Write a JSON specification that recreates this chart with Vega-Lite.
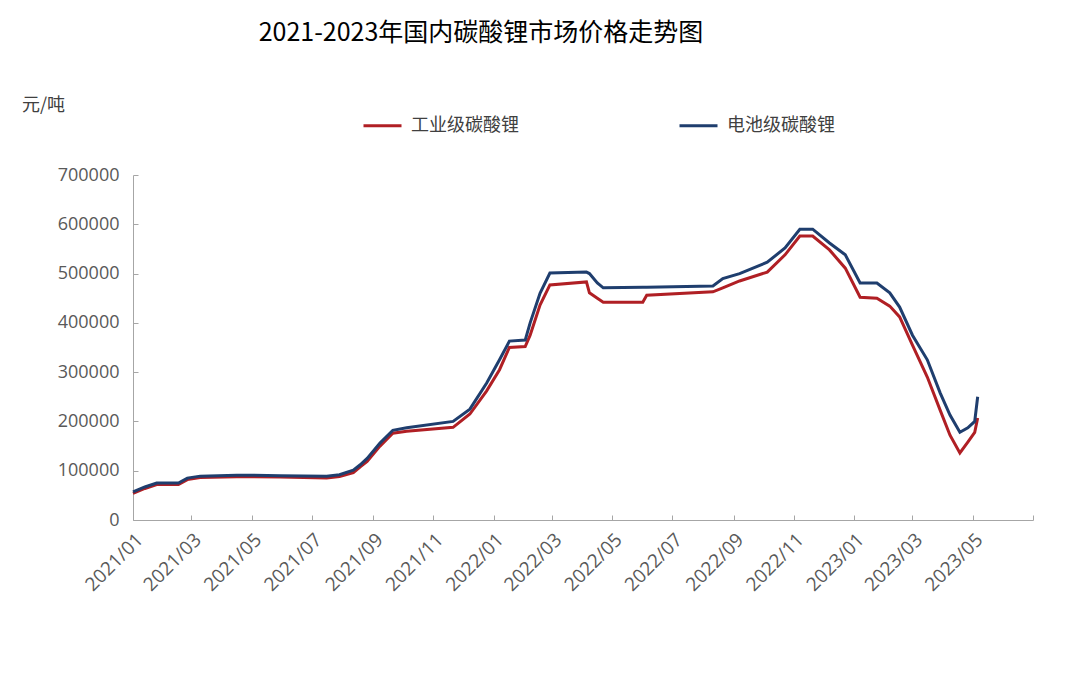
{
  "$schema": "https://vega.github.io/schema/vega-lite/v6.json",
  "width": 900,
  "height": 345,
  "autosize": {"type": "none"},
  "padding": {"left": 133, "top": 175, "right": 47, "bottom": 158},
  "background": "white",
  "config": {"view": {"stroke": null}, "font": "Open Sans"},
  "title": {
    "text": "2021-2023年国内碳酸锂市场价格走势图",
    "font": "Noto Sans CJK SC",
    "fontSize": 25,
    "fontWeight": "normal",
    "color": "#000000",
    "anchor": "middle",
    "dx": -102,
    "offset": 50
  },
  "data": {
    "values": [
      {"date": "2021-01-01T00:00", "industrial": 54000, "battery": 57000},
      {"date": "2021-01-13T00:00", "industrial": 64000, "battery": 67000},
      {"date": "2021-01-25T00:00", "industrial": 72000, "battery": 75000},
      {"date": "2021-02-16T00:00", "industrial": 72000, "battery": 75000},
      {"date": "2021-02-25T00:00", "industrial": 82000, "battery": 85000},
      {"date": "2021-03-10T00:00", "industrial": 86000, "battery": 89000},
      {"date": "2021-04-16T00:00", "industrial": 88000, "battery": 91000},
      {"date": "2021-05-30T00:00", "industrial": 87000, "battery": 90000},
      {"date": "2021-07-16T00:00", "industrial": 85000, "battery": 89000},
      {"date": "2021-07-29T00:00", "industrial": 88000, "battery": 92000},
      {"date": "2021-08-12T00:00", "industrial": 96000, "battery": 101000},
      {"date": "2021-08-19T00:00", "industrial": 108000, "battery": 112000},
      {"date": "2021-08-26T00:00", "industrial": 119000, "battery": 125000},
      {"date": "2021-09-08T00:00", "industrial": 150000, "battery": 156000},
      {"date": "2021-09-21T00:00", "industrial": 176000, "battery": 182000},
      {"date": "2021-10-05T00:00", "industrial": 180000, "battery": 187000},
      {"date": "2021-11-21T00:00", "industrial": 188000, "battery": 200000},
      {"date": "2021-12-08T00:00", "industrial": 215000, "battery": 225000},
      {"date": "2021-12-25T00:00", "industrial": 262000, "battery": 278000},
      {"date": "2022-01-07T00:00", "industrial": 305000, "battery": 325000},
      {"date": "2022-01-17T00:00", "industrial": 350000, "battery": 363000},
      {"date": "2022-02-02T00:00", "industrial": 352000, "battery": 365000},
      {"date": "2022-02-07T00:00", "industrial": 375000, "battery": 400000},
      {"date": "2022-02-17T00:00", "industrial": 436000, "battery": 460000},
      {"date": "2022-02-27T00:00", "industrial": 477000, "battery": 501000},
      {"date": "2022-04-05T00:00", "industrial": 483000, "battery": 503000},
      {"date": "2022-04-08T00:00", "industrial": 461000, "battery": 500000},
      {"date": "2022-04-16T00:00", "industrial": 450000, "battery": 481000},
      {"date": "2022-04-22T00:00", "industrial": 442000, "battery": 471000},
      {"date": "2022-06-01T00:00", "industrial": 442000, "battery": 472000},
      {"date": "2022-06-05T00:00", "industrial": 456000, "battery": 472000},
      {"date": "2022-08-11T00:00", "industrial": 463000, "battery": 475000},
      {"date": "2022-08-21T00:00", "industrial": 471000, "battery": 490000},
      {"date": "2022-09-07T00:00", "industrial": 485000, "battery": 500000},
      {"date": "2022-10-05T00:00", "industrial": 503000, "battery": 523000},
      {"date": "2022-10-23T00:00", "industrial": 538000, "battery": 552000},
      {"date": "2022-11-07T00:00", "industrial": 576000, "battery": 590000},
      {"date": "2022-11-20T00:00", "industrial": 576000, "battery": 590000},
      {"date": "2022-12-07T00:00", "industrial": 548000, "battery": 562000},
      {"date": "2022-12-23T00:00", "industrial": 511000, "battery": 538000},
      {"date": "2023-01-07T00:00", "industrial": 452000, "battery": 481000},
      {"date": "2023-01-24T00:00", "industrial": 450000, "battery": 481000},
      {"date": "2023-02-06T00:00", "industrial": 434000, "battery": 461000},
      {"date": "2023-02-16T00:00", "industrial": 412000, "battery": 432000},
      {"date": "2023-03-01T00:00", "industrial": 355000, "battery": 375000},
      {"date": "2023-03-16T00:00", "industrial": 290000, "battery": 325000},
      {"date": "2023-03-29T00:00", "industrial": 223000, "battery": 258000},
      {"date": "2023-04-08T00:00", "industrial": 172000, "battery": 213000},
      {"date": "2023-04-18T00:00", "industrial": 136000, "battery": 178000},
      {"date": "2023-04-26T00:00", "industrial": 158000, "battery": 187000},
      {"date": "2023-05-03T00:00", "industrial": 178000, "battery": 200000},
      {"date": "2023-05-06T00:00", "industrial": 207000, "battery": 250000}
    ]
  },
  "encoding": {
    "x": {
      "field": "date",
      "type": "temporal",
      "scale": {"domain": [{"year": 2021, "month": 1, "date": 1}, {"year": 2023, "month": 7, "date": 1}]},
      "axis": {
        "title": null,
        "format": "%Y/%m",
        "tickCount": {"interval": "month", "step": 2},
        "labelExpr": "datum.value >= datetime(2023, 5, 15) ? '' : timeFormat(datum.value, '%Y/%m')",
        "labelAngle": -45,
        "labelAlign": "right",
        "labelBaseline": "top",
        "labelPadding": 15,
        "tickSize": -5,
        "labelFontSize": 19,
        "labelColor": "#595959",
        "labelOverlap": false,
        "labelFlush": false,
        "domainColor": "#A6A6A6",
        "tickColor": "#A6A6A6",
        "grid": false
      }
    },
    "y": {
      "type": "quantitative",
      "scale": {"domain": [0, 700000]},
      "axis": {
        "title": "元/吨",
        "titleAngle": 0,
        "titleX": -90,
        "titleY": -70,
        "titleAlign": "center",
        "titleBaseline": "middle",
        "titleFont": "Noto Sans CJK SC",
        "titleFontSize": 18,
        "titleFontWeight": "normal",
        "titleColor": "#404040",
        "values": [0, 100000, 200000, 300000, 400000, 500000, 600000, 700000],
        "format": "d",
        "labelFontSize": 18,
        "labelColor": "#595959",
        "labelPadding": 19,
        "tickSize": -5,
        "domainColor": "#A6A6A6",
        "tickColor": "#A6A6A6",
        "grid": false
      }
    },
    "color": {
      "type": "nominal",
      "scale": {"domain": ["工业级碳酸锂", "电池级碳酸锂"], "range": ["#B01F24", "#1F3E6E"]},
      "legend": {
        "title": null,
        "orient": "none",
        "legendX": 229,
        "legendY": -70,
        "direction": "horizontal",
        "symbolType": "stroke",
        "symbolSize": 1444,
        "symbolStrokeWidth": 3,
        "labelFont": "Noto Sans CJK SC",
        "labelFontSize": 18,
        "labelColor": "#404040",
        "labelOffset": 8,
        "columnPadding": 154
      }
    }
  },
  "layer": [
    {
      "mark": {"type": "line", "strokeWidth": 3},
      "encoding": {
        "y": {"field": "industrial", "type": "quantitative", "title": "元/吨"},
        "color": {"datum": "工业级碳酸锂", "type": "nominal"}
      }
    },
    {
      "mark": {"type": "line", "strokeWidth": 3},
      "encoding": {
        "y": {"field": "battery", "type": "quantitative", "title": "元/吨"},
        "color": {"datum": "电池级碳酸锂", "type": "nominal"}
      }
    }
  ]
}
